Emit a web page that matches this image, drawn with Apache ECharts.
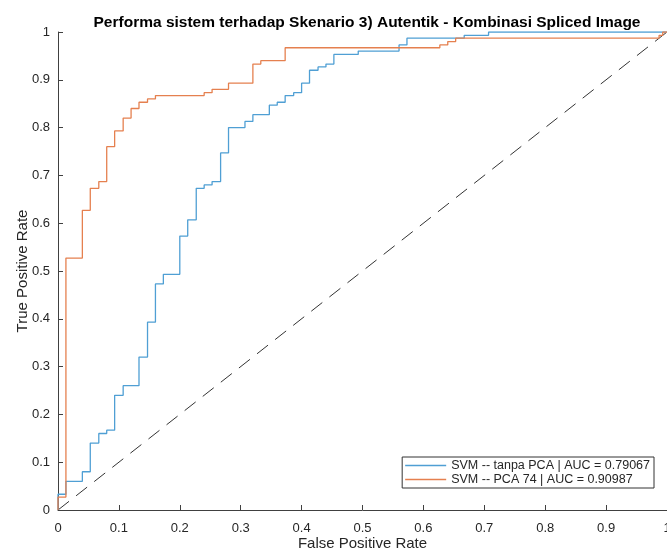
<!DOCTYPE html>
<html>
<head>
<meta charset="utf-8">
<script src="https://cdn.jsdelivr.net/npm/echarts@6/dist/echarts.min.js"></script>
<style>
  html, body { margin: 0; padding: 0; background: #fff; }
  #chart { width: 667px; height: 551px; }
</style>
</head>
<body>
<div id="chart"></div>
<script>
// ROC points (FPR, TPR) — vertices where each step rises
const fprTanpa = [0, 0, 0.013, 0.04, 0.053, 0.067, 0.08, 0.093, 0.107, 0.133, 0.147, 0.16, 0.173, 0.2, 0.213, 0.227, 0.24, 0.253, 0.267, 0.28, 0.307, 0.32, 0.347, 0.36, 0.373, 0.387, 0.4, 0.413, 0.427, 0.44, 0.453, 0.493, 0.56, 0.573, 0.667, 0.707, 1];
const tprTanpa = [0, 0.033, 0.06, 0.08, 0.14, 0.16, 0.167, 0.24, 0.26, 0.32, 0.393, 0.473, 0.493, 0.573, 0.607, 0.673, 0.68, 0.687, 0.747, 0.8, 0.813, 0.827, 0.847, 0.853, 0.867, 0.873, 0.893, 0.92, 0.927, 0.933, 0.953, 0.96, 0.973, 0.987, 0.993, 1, 1];

const fprPca = [0, 0, 0.013, 0.04, 0.053, 0.067, 0.08, 0.093, 0.107, 0.12, 0.133, 0.147, 0.16, 0.24, 0.253, 0.28, 0.32, 0.333, 0.373, 0.627, 0.64, 0.653, 0.987, 0.993, 1];
const tprPca = [0, 0.027, 0.527, 0.627, 0.673, 0.687, 0.76, 0.793, 0.82, 0.84, 0.853, 0.86, 0.867, 0.873, 0.88, 0.893, 0.933, 0.94, 0.967, 0.973, 0.98, 0.987, 0.993, 1, 1];

const chancePts = [[0, 0], [1, 1]];
const seriesNames = ['SVM -- tanpa PCA | AUC = 0.79067', 'SVM -- PCA 74 | AUC = 0.90987'];
const blue = '#4f9fd4';
const orange = '#e5804f';

const zip = (xs, ys) => xs.map((x, i) => [x, ys[i]]);

const chart = echarts.init(document.getElementById('chart'));

const axisCommon = {
  type: 'value',
  min: 0,
  max: 1,
  interval: 0.1,
  nameLocation: 'middle',
  nameMoveOverlap: false,
  nameTextStyle: { fontSize: 15, color: '#262626', fontFamily: 'Liberation Sans' },
  axisLine: { show: true, lineStyle: { color: '#404040', width: 1 } },
  axisTick: { show: true, inside: true, length: 5, lineStyle: { color: '#404040' } },
  axisLabel: { fontSize: 13, color: '#262626', fontFamily: 'Liberation Sans' },
  splitLine: { show: false }
};

chart.setOption({
  backgroundColor: '#ffffff',
  animation: false,
  title: {
    text: 'Performa sistem terhadap Skenario 3) Autentik - Kombinasi Spliced Image',
    left: 362,
    top: 10,
    textAlign: 'center',
    textStyle: { fontSize: 15.5, fontWeight: 'bold', color: '#000', fontFamily: 'Liberation Sans' }
  },
  grid: { left: 58, right: 0, top: 32, bottom: 41, containLabel: false, outerBoundsMode: 'none' },
  xAxis: Object.assign({}, axisCommon, {
    name: 'False Positive Rate',
    nameGap: 26,
    axisLabel: Object.assign({}, axisCommon.axisLabel, { margin: 12 })
  }),
  yAxis: Object.assign({}, axisCommon, { name: 'True Positive Rate', nameGap: 28 }),
  legend: {
    data: seriesNames.map(n => ({ name: n, icon: 'rect' })),
    orient: 'vertical',
    right: 13,
    bottom: 63,
    backgroundColor: '#ffffff',
    borderColor: '#333',
    borderWidth: 1,
    borderRadius: 0,
    padding: [2, 4, 2, 3],
    itemGap: 1,
    itemWidth: 41,
    itemHeight: 1.5,
    textStyle: { fontSize: 12.5, color: '#262626', fontFamily: 'Liberation Sans' }
  },
  series: [
    {
      name: 'chance',
      type: 'line',
      data: chancePts,
      symbol: 'none',
      silent: true,
      lineStyle: { color: '#333', width: 1, type: [14, 9] }
    },
    {
      name: seriesNames[0],
      type: 'line',
      step: 'end',
      data: zip(fprTanpa, tprTanpa),
      symbol: 'none',
      itemStyle: { color: blue },
      lineStyle: { color: blue, width: 1.3 }
    },
    {
      name: seriesNames[1],
      type: 'line',
      step: 'end',
      data: zip(fprPca, tprPca),
      symbol: 'none',
      itemStyle: { color: orange },
      lineStyle: { color: orange, width: 1.3 }
    }
  ]
});
</script>
</body>
</html>
